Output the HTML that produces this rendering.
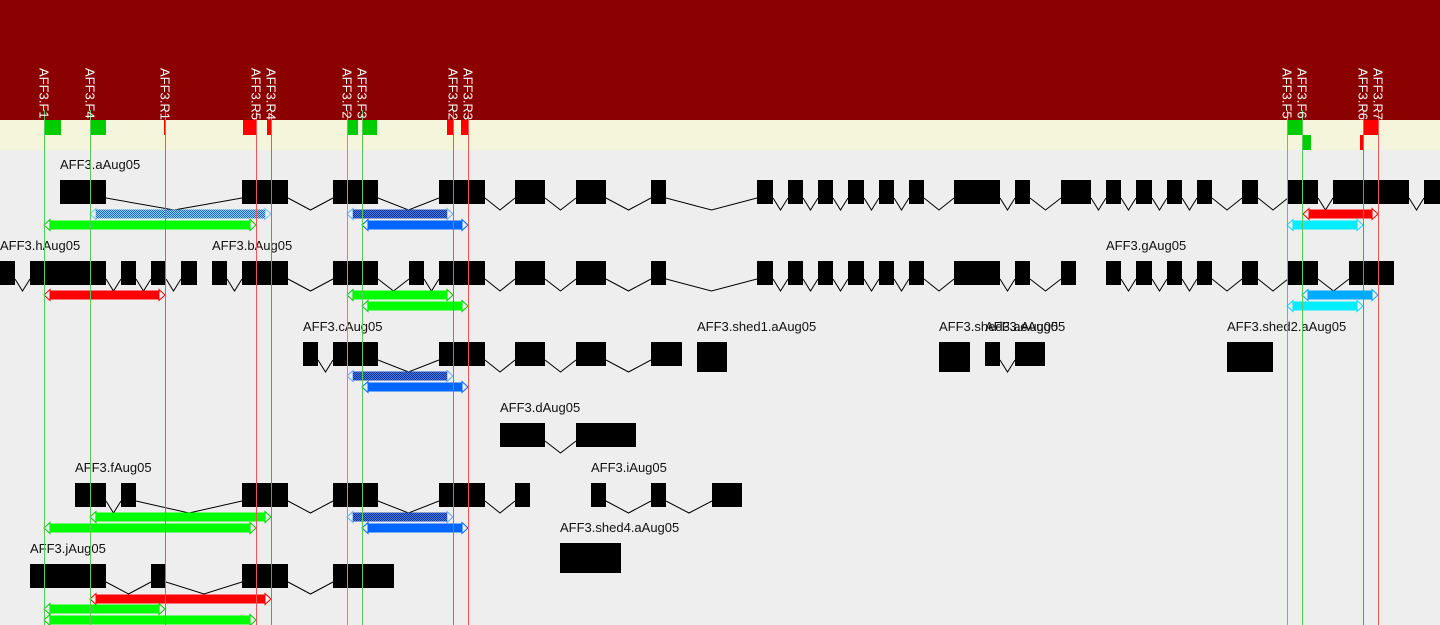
<!DOCTYPE html>
<html><head><meta charset="utf-8"><style>
html,body{margin:0;padding:0;background:#eee;}
svg{display:block;font-family:"Liberation Sans",sans-serif;}
</style></head><body>
<svg id="s" width="1440" height="625" xmlns="http://www.w3.org/2000/svg">
<defs>
<pattern id="hl" width="2" height="2" patternUnits="userSpaceOnUse"><rect width="2" height="2" fill="#7cd8ff"/><rect width="1" height="1" fill="#2a5fb0"/><rect x="1" y="1" width="1" height="1" fill="#2a5fb0"/></pattern>
<pattern id="hd" width="2" height="2" patternUnits="userSpaceOnUse"><rect width="2" height="2" fill="#3a7cff"/><rect width="1" height="1" fill="#1a2f80"/><rect x="1" y="1" width="1" height="1" fill="#1a2f80"/></pattern>
</defs>
<rect x="0" y="0" width="1440" height="120" fill="#8b0000"/>
<rect x="0" y="120" width="1440" height="30" fill="#f5f5dc"/>
<rect x="0" y="150" width="1440" height="475" fill="#eeeeee"/>
<g id="g"></g>
</svg>
<script>
var g=document.getElementById('g'),h='';
function R(x1,x2,y1,y2,f){h+='<rect x="'+x1+'" y="'+y1+'" width="'+(x2-x1)+'" height="'+(y2-y1)+'" fill="'+f+'"/>';}
function T(x,y,t){h+='<text x="'+x+'" y="'+y+'" font-size="13" fill="#111">'+t+'</text>';}
function gene(y,ex,breaks){breaks=breaks||[];
 for(var i=0;i<ex.length;i++){var e=ex[i];R(e[0],e[1],y,y+(e[2]||24),'#000');
  if(i<ex.length-1&&breaks.indexOf(i)<0){var a=e[1],b=ex[i+1][0],m=(a+b)/2;
   h+='<polyline points="'+a+','+(y+18)+' '+m+','+(y+30)+' '+b+','+(y+18)+'" fill="none" stroke="#000" stroke-width="1"/>';}}}
function bar(x1,x2,y,f,st){var t=y-4.5,b=y+4.5;
 h+='<polygon points="'+x1+','+y+' '+(x1+6)+','+(t-1)+' '+(x1+6)+','+(b+1)+'" fill="none" stroke="'+st+'" stroke-width="1"/>';
 h+='<polygon points="'+x2+','+y+' '+(x2-6)+','+(t-1)+' '+(x2-6)+','+(b+1)+'" fill="none" stroke="'+st+'" stroke-width="1"/>';
 R(x1+6,x2-6,t,b,f);}
var GM='#00cc00',RM='#ff0000';
R(45,61,120,135,GM);R(90,106,120,135,GM);R(164,166,120,135,RM);R(243,257,120,135,RM);R(267,272,120,135,RM);
R(348,358,120,135,GM);R(363,377,120,135,GM);R(447,453,120,135,RM);R(461,469,120,135,RM);
R(1288,1303,120,135,GM);R(1303,1311,135,150,GM);R(1360,1363,135,150,RM);R(1363,1379,120,135,RM);
T(60,169,'AFF3.aAug05');
gene(180,[[60,106],[242,288],[333,378],[439,485],[515,545],[576,606],[651,666],[757,773],[788,803],[818,833],[848,864],[879,894],[909,924],[954,1000],[1015,1030],[1061,1091],[1106,1121],[1136,1152],[1167,1182],[1197,1212],[1242,1258],[1288,1318],[1333,1409],[1424,1440]]);
bar(90,271,214,'url(#hl)','#6cf');bar(347,453,214,'url(#hd)','#6af');bar(1303,1378,214,'#ff0000','#f00');
bar(44,256,225,'#00ff00','#0c0');bar(362,468,225,'#0066ff','#06f');bar(1287,1363,225,'#00eeff','#0df');
T(0,250,'AFF3.hAug05');T(212,250,'AFF3.bAug05');T(1106,250,'AFF3.gAug05');
gene(261,[[0,15],[30,106],[121,136],[151,166],[181,197],[212,227],[242,288],[333,378],[409,424],[439,485],[515,545],[576,606],[651,666],[757,773],[788,803],[818,833],[848,864],[879,894],[909,924],[954,1000],[1015,1030],[1061,1076],[1106,1121],[1136,1152],[1167,1182],[1197,1212],[1242,1258],[1288,1318],[1349,1394]],[4,21]);
bar(44,165,295,'#ff0000','#f00');bar(347,453,295,'#00ff00','#0c0');bar(1302,1378,295,'#00aaff','#0af');
bar(362,468,306,'#00ff00','#0c0');bar(1287,1363,306,'#00eeff','#0df');
T(303,331,'AFF3.cAug05');T(697,331,'AFF3.shed1.aAug05');T(939,331,'AFF3.shed3.aAug05');T(985,331,'AFF3.eAug05');T(1227,331,'AFF3.shed2.aAug05');
gene(342,[[303,318],[333,378],[439,485],[515,545],[576,606],[651,682]]);
R(697,727,342,372,'#000');R(939,970,342,372,'#000');
gene(342,[[985,1000],[1015,1045]]);
R(1227,1273,342,372,'#000');
bar(347,453,376,'url(#hd)','#6af');bar(362,468,387,'#0066ff','#06f');
T(500,412,'AFF3.dAug05');
gene(423,[[500,545],[576,636]]);
T(75,472,'AFF3.fAug05');T(591,472,'AFF3.iAug05');
gene(483,[[75,106],[121,136],[242,288],[333,378],[439,485],[515,530]]);
gene(483,[[591,606],[651,666],[712,742]]);
bar(90,271,517,'#00ff00','#0c0');bar(347,453,517,'url(#hd)','#6af');
bar(44,256,528,'#00ff00','#0c0');bar(362,468,528,'#0066ff','#06f');
T(560,532,'AFF3.shed4.aAug05');R(560,621,543,573,'#000');
T(30,553,'AFF3.jAug05');
gene(564,[[30,106],[151,166],[242,288],[333,394]]);
bar(90,271,599,'#ff0000','#f00');bar(44,165,609,'#00ff00','#0c0');bar(44,256,620,'#00ff00','#0c0');
[44,90,347,362,1287,1302].forEach(function(x){h+='<line x1="'+(x+.5)+'" y1="110" x2="'+(x+.5)+'" y2="625" stroke="#55cc55" stroke-width="1"/>';});
[165,256,271,453,468,1363,1378].forEach(function(x){h+='<line x1="'+(x+.5)+'" y1="110" x2="'+(x+.5)+'" y2="625" stroke="#ee5555" stroke-width="1"/>';});
[[44,'AFF3.F1'],[90,'AFF3.F4'],[165,'AFF3.R1'],[256,'AFF3.R5'],[271,'AFF3.R4'],[347,'AFF3.F2'],[362,'AFF3.F3'],[453,'AFF3.R2'],[468,'AFF3.R3'],[1287,'AFF3.F5'],[1302,'AFF3.F6'],[1363,'AFF3.R6'],[1378,'AFF3.R7']].forEach(function(p){
 var x=p[0]-4.5,y=68;h+='<text transform="translate('+x+','+y+') rotate(90)" font-size="13" fill="#fff">'+p[1]+'</text>';});
g.innerHTML=h;
</script>
</body></html>
